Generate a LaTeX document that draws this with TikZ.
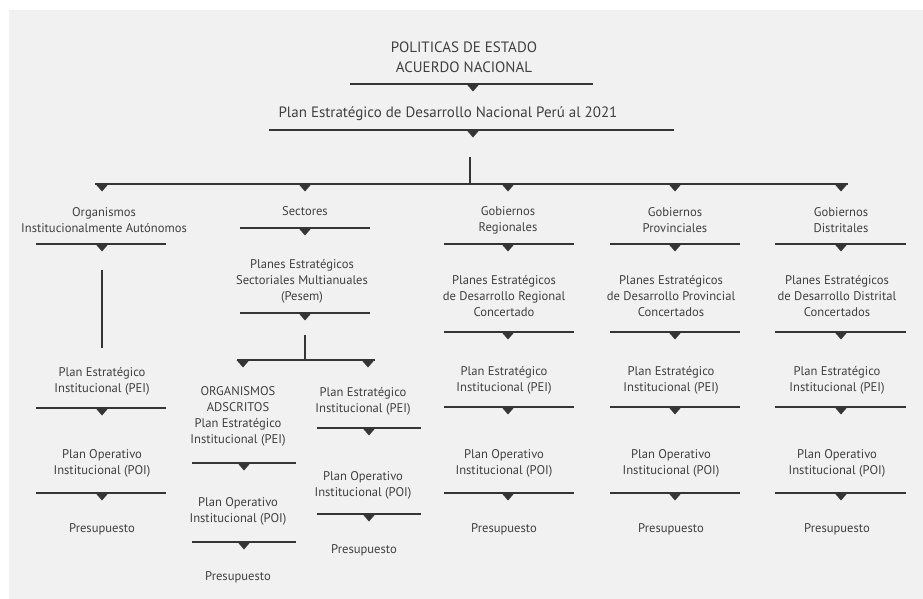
\documentclass[tikz,border=0pt]{standalone}
\usepackage{fontspec}
\setmainfont{PT Sans}
\definecolor{bgc}{HTML}{F1F1F1}
\definecolor{linec}{HTML}{353535}
\definecolor{txtc}{HTML}{404040}
\newcommand{\hbarT}[4]{% xl, xr, y, xtri
  \draw[barline] (#1,#3) -- (#2,#3);
  \fill[linec] (#4-6.5,#3) -- (#4+6.5,#3) -- (#4,#3+7.5) -- cycle;}
\begin{document}
\begin{tikzpicture}[x=1pt,y=-1pt,
  lbl/.style={align=center,inner sep=0pt,text=txtc,font=\fontsize{12.6}{16}\selectfont},
  big/.style={align=center,inner sep=0pt,text=txtc,font=\fontsize{15}{20}\selectfont},
  barline/.style={draw=linec,line width=1.8pt},
  vline/.style={draw=linec,line width=1.5pt}]
\useasboundingbox (0,0) rectangle (923,599);
\fill[white] (0,0) rectangle (923,599);
\fill[bgc] (9,10) rectangle (923,599);
% top
\node[big] (pol) at (464,57) {POLITICAS DE ESTADO\\ACUERDO NACIONAL};
\hbarT{350}{593}{84}{473}
\node[big] (pedn) at (448,114) {Plan Estratégico de Desarrollo Nacional Perú al 2021};
\hbarT{269}{674}{130}{473}
\coordinate (vt) at (470,157);
\coordinate (vb) at (470,184);
\draw[vline] (vt) -- (vb);
\draw[barline] (95,184) -- (848,184);
\foreach \t in {102,305,508,675,841}{\fill[linec] (\t-6.5,184) -- (\t+6.5,184) -- (\t,191.5) -- cycle;}
% col1
\node[lbl] (oia) at (104,220) {Organismos\\Institucionalmente Autónomos};
\hbarT{36}{166}{244}{102}
\coordinate (c1t) at (102,270);
\coordinate (c1b) at (102,348);
\draw[vline] (c1t) -- (c1b);
\node[lbl] (pei1) at (102,381) {Plan Estratégico\\Institucional (PEI)};
\hbarT{36}{166}{408}{102}
\node[lbl] (poi1) at (102,463) {Plan Operativo\\Institucional (POI)};
\hbarT{36}{166}{493}{102}
\node[lbl] (pre1) at (102,529) {Presupuesto};
% col2
\node[lbl] (sec) at (305,211) {Sectores};
\hbarT{240}{370}{228}{305}
\node[lbl] (pesem) at (302,281) {Planes Estratégicos\\Sectoriales Multianuales\\(Pesem)};
\hbarT{240}{370}{313}{305}
\coordinate (c2t) at (305,335);
\coordinate (c2b) at (305,360);
\draw[vline] (c2t) -- (c2b);
\draw[barline] (237,360) -- (375,360);
\foreach \t in {243,368}{\fill[linec] (\t-6.5,360) -- (\t+6.5,360) -- (\t,367.5) -- cycle;}
\node[lbl] (oad) at (238,416) {ORGANISMOS\\ADSCRITOS\\Plan Estratégico\\Institucional (PEI)};
\hbarT{192}{296}{463}{244}
\node[lbl] (poi2a) at (238,511) {Plan Operativo\\Institucional (POI)};
\hbarT{192}{296}{542}{244}
\node[lbl] (pre2a) at (238,577) {Presupuesto};
\node[lbl] (pei2b) at (363,401) {Plan Estratégico\\Institucional (PEI)};
\hbarT{317}{421}{428}{369}
\node[lbl] (poi2b) at (363,485) {Plan Operativo\\Institucional (POI)};
\hbarT{317}{421}{514}{369}
\node[lbl] (pre2b) at (364,550) {Presupuesto};
% cols 3-5
\foreach \t/\xl/\xr/\hA/\hB/\pA/\pB/\pC/\id in {
  508/444/574/Gobiernos/Regionales/Planes Estratégicos/de Desarrollo Regional/Concertado/r,
  675/610/740/Gobiernos/Provinciales/Planes Estratégicos/de Desarrollo Provincial/Concertados/p,
  841/775/906/Gobiernos/Distritales/Planes Estratégicos/de Desarrollo Distrital/Concertados/d}{
  \node[lbl] (gob\id) at (\t,220) {\hA\\\hB};
  \hbarT{\xl}{\xr}{244}{\t}
  \node[lbl] (pdc\id) at (\t-4,296) {\pA\\\pB\\\pC};
  \hbarT{\xl}{\xr}{332}{\t}
  \node[lbl] (pei\id) at (\t-4,380) {Plan Estratégico\\Institucional (PEI)};
  \hbarT{\xl}{\xr}{407}{\t}
  \node[lbl] (poi\id) at (\t-4,463) {Plan Operativo\\Institucional (POI)};
  \hbarT{\xl}{\xr}{493}{\t}
  \node[lbl] (pre\id) at (\t-4,529) {Presupuesto};
}
\end{tikzpicture}
\end{document}
